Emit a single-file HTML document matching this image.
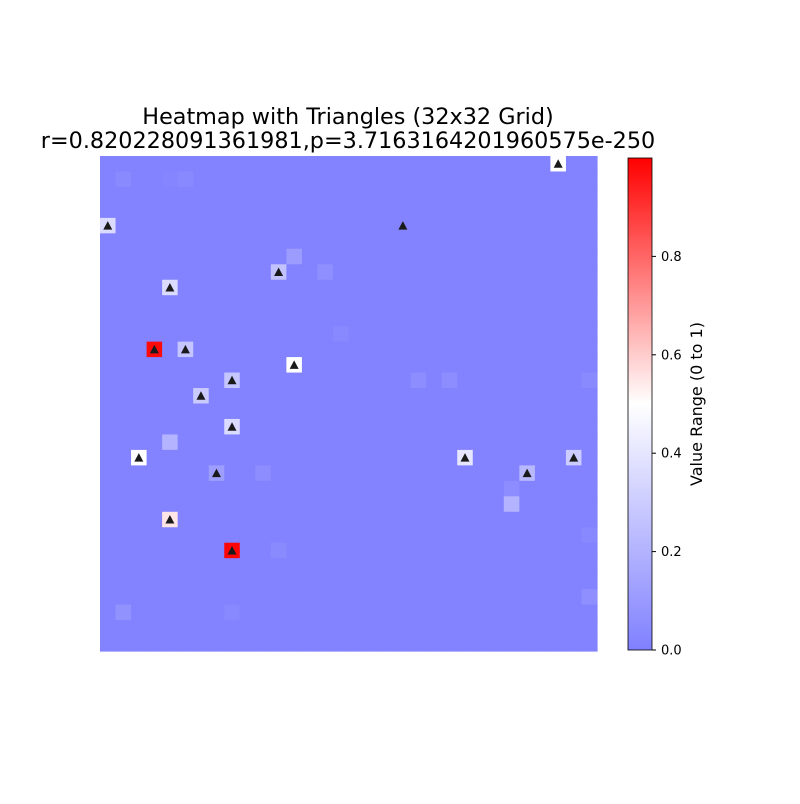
<!DOCTYPE html>
<html><head><meta charset="utf-8"><style>
body{margin:0;background:#fff;font-family:"DejaVu Sans","Liberation Sans",sans-serif}
</style></head><body>
<svg id="chart" width="800" height="800" xmlns="http://www.w3.org/2000/svg" font-family="DejaVu Sans, Liberation Sans, sans-serif">
<defs><linearGradient id="cbg" x1="0" y1="1" x2="0" y2="0">
<stop offset="0" stop-color="rgb(128,128,255)"/><stop offset="0.5" stop-color="#fff"/><stop offset="1" stop-color="rgb(255,0,0)"/></linearGradient></defs>
<text x="348" y="124" text-anchor="middle" font-size="22.3">Heatmap with Triangles (32x32 Grid)</text>
<text x="348" y="148" text-anchor="middle" font-size="22.3">r=0.820228091361981,p=3.7163164201960575e-250</text>
<g id="cells"></g>
<g id="tris"></g>
<rect x="628" y="158" width="24" height="492" fill="url(#cbg)" stroke="#000" stroke-width="0.8"/>
<g id="cbticks"></g>
<text transform="translate(702,404) rotate(-90)" text-anchor="middle" font-size="16">Value Range (0 to 1)</text>
</svg>
<script>
const N = 32;
const baseValue = 0.01;
// [row, col, value]
const highlightCells = [[0,29,0.5],[4,0,0.36],[4,19,0.01],[7,11,0.26],[8,4,0.36],[12,3,0.98],[12,5,0.27],[13,12,0.5],[14,8,0.27],[15,6,0.29],[17,8,0.36],[19,2,0.5],[19,23,0.4],[19,30,0.3],[20,7,0.12],[20,27,0.22],[23,4,0.55],[25,8,0.99]];
const otherCells = [[6,12,0.11],[7,14,0.06],[18,4,0.2],[22,26,0.2],[21,26,0.05],[29,1,0.07],[1,1,0.04],[1,5,0.03],[1,4,0.02],[14,20,0.05],[14,22,0.05],[14,31,0.04],[11,15,0.03],[20,10,0.05],[25,11,0.04],[28,31,0.06],[29,8,0.03],[24,31,0.03]];
const triangleCells = [[0,29],[4,0],[4,19],[7,11],[8,4],[12,3],[12,5],[13,12],[14,8],[15,6],[17,8],[19,2],[19,23],[19,30],[20,7],[20,27],[23,4],[25,8]];
const cbTicks = [0,0.2,0.4,0.6,0.8];
const vmax = 1.0;

const X0=100, X1=597, Y0=156, Y1=651;
const cw=(X1-X0)/N, ch=(Y1-Y0)/N;
const xs=c=>X0+c*cw, ys=r=>Y0+r*ch;
function color(v){
  let t=Math.max(0,Math.min(1,v/vmax)),r,g,b;
  if(t<0.5){const k=t/0.5;r=128+127*k;g=128+127*k;b=255;}
  else{const k=(t-0.5)/0.5;r=255;g=255*(1-k);b=255*(1-k);}
  return `rgb(${Math.round(r)},${Math.round(g)},${Math.round(b)})`;
}
const NS="http://www.w3.org/2000/svg";
const vals=[];for(let r=0;r<N;r++){vals.push(new Array(N).fill(baseValue));}
otherCells.concat(highlightCells).forEach(([r,c,v])=>{vals[r][c]=v;});
const cg=document.getElementById('cells');
for(let r=0;r<N;r++)for(let c=0;c<N;c++){
  const e=document.createElementNS(NS,'rect');
  e.setAttribute('x',xs(c));e.setAttribute('y',ys(r));
  e.setAttribute('width',cw+0.6);e.setAttribute('height',ch+0.6);
  e.setAttribute('fill',color(vals[r][c]));
  
  
  cg.appendChild(e);
}
const tg=document.getElementById('tris');
triangleCells.forEach(([r,c])=>{
  const cx=xs(c)+cw/2, cy=ys(r)+ch/2;
  const p=document.createElementNS(NS,'polygon');
  p.setAttribute('points',`${cx},${cy-4.5} ${cx-4.5},${cy+4} ${cx+4.5},${cy+4}`);
  p.setAttribute('fill','#1a1a1a');
  
  
  tg.appendChild(p);
});
const tk=document.getElementById('cbticks');
cbTicks.forEach(v=>{
  const y=650-v/vmax*492;
  const l=document.createElementNS(NS,'line');
  l.setAttribute('x1',652);l.setAttribute('x2',656);l.setAttribute('y1',y);l.setAttribute('y2',y);
  l.setAttribute('stroke','#000');
  
  
  tk.appendChild(l);
  const t=document.createElementNS(NS,'text');
  t.setAttribute('x',661);t.setAttribute('y',y+4.5);t.setAttribute('font-size','13');
  t.textContent=v.toFixed(1);
  
  
  tk.appendChild(t);
});
</script>
</body></html>
